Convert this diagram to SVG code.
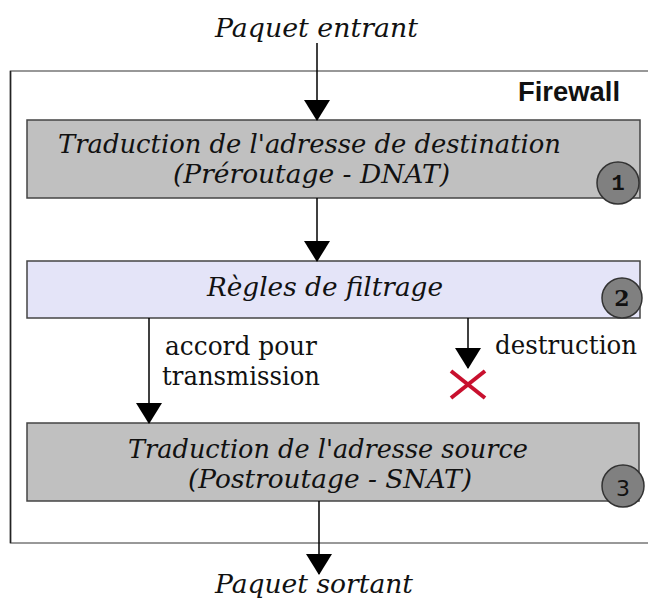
<svg xmlns="http://www.w3.org/2000/svg" width="648" height="598" viewBox="0 0 648 598">
<style>
.it{font-family:'DejaVu Serif','Liberation Serif',serif;font-style:italic;font-size:26px;fill:#111}
.rm{font-family:'DejaVu Serif','Liberation Serif',serif;font-size:26px;fill:#111}
.box{stroke:#444;stroke-width:1.5}
.gray{fill:#c0c0c0}
.lav{fill:#e4e4f8}
.badge{fill:#808080;stroke:#333;stroke-width:1.5}
.num{font-size:22px;fill:#111;text-anchor:middle}
.conn line{stroke:#000;stroke-width:1.5}
</style>
<defs>
<marker id="arr" markerUnits="userSpaceOnUse" markerWidth="21" markerHeight="26" viewBox="0 0 21 26" refX="20" refY="13" orient="auto">
<polygon points="0,0 21,13 0,26" fill="#000"/>
</marker>
</defs>
<rect width="648" height="598" fill="#fff"/>

<g id="firewall">
<rect x="10.5" y="71" width="660" height="472" fill="#fff" stroke="#777" stroke-width="1.5"/>
<line x1="10.5" y1="71" x2="10.5" y2="543" stroke="#222" stroke-width="1.5"/>
<text x="620" y="101" text-anchor="end" font-family="Liberation Sans, Arial, sans-serif" font-weight="bold" font-size="27" fill="#111" textLength="102" lengthAdjust="spacingAndGlyphs">Firewall</text>
</g>

<g id="in-label">
<text class="it" x="215" y="37" textLength="203" lengthAdjust="spacingAndGlyphs">Paquet  entrant</text>
</g>

<g id="dnat">
<rect class="box gray" x="27" y="120" width="613" height="78"/>
<text class="it" x="58" y="153" textLength="503" lengthAdjust="spacingAndGlyphs">Traduction de l'adresse de destination</text>
<text class="it" x="173" y="183" textLength="277" lengthAdjust="spacingAndGlyphs">(Préroutage - DNAT)</text>
<circle class="badge" cx="618" cy="183" r="21"/>
<text class="num" x="618" y="190" font-family="Liberation Mono, monospace" font-weight="bold">1</text>
</g>

<g id="filter">
<rect class="box lav" x="27" y="261" width="613" height="57"/>
<text class="it" x="207" y="296" textLength="236" lengthAdjust="spacingAndGlyphs">Règles  de  filtrage</text>
<circle class="badge" cx="622" cy="298" r="20"/>
<text class="num" x="622" y="306" font-family="DejaVu Serif, serif" font-weight="bold">2</text>
</g>

<g id="snat">
<rect class="box gray" x="27" y="423" width="612" height="78"/>
<text class="it" x="128" y="458" textLength="400" lengthAdjust="spacingAndGlyphs">Traduction de l'adresse source</text>
<text class="it" x="188" y="488" textLength="284" lengthAdjust="spacingAndGlyphs">(Postroutage - SNAT)</text>
<circle class="badge" cx="623" cy="486" r="21"/>
<text class="num" x="623" y="496" font-family="DejaVu Sans, sans-serif" font-size="27" textLength="14" lengthAdjust="spacingAndGlyphs">3</text>
</g>

<g id="out-label">
<text class="it" x="215" y="593" textLength="198" lengthAdjust="spacingAndGlyphs">Paquet  sortant</text>
</g>

<g id="drop">
<line x1="451" y1="371" x2="485" y2="398" stroke="#c8102e" stroke-width="4"/>
<line x1="485" y1="371" x2="451" y2="398" stroke="#c8102e" stroke-width="4"/>
</g>

<g id="connectors" class="conn">
<line x1="317" y1="43" x2="317" y2="120" marker-end="url(#arr)"/>
<line x1="317" y1="198" x2="317" y2="261" marker-end="url(#arr)"/>
<line x1="149" y1="318" x2="149" y2="423" marker-end="url(#arr)"/>
<line x1="468" y1="318" x2="468" y2="368" marker-end="url(#arr)"/>
<line x1="319" y1="501" x2="319" y2="574" marker-end="url(#arr)"/>
<text class="rm" x="165" y="355" textLength="152" lengthAdjust="spacingAndGlyphs">accord pour</text>
<text class="rm" x="162" y="385" textLength="158" lengthAdjust="spacingAndGlyphs">transmission</text>
<text class="rm" x="495" y="354" textLength="142" lengthAdjust="spacingAndGlyphs">destruction</text>
</g>
</svg>
